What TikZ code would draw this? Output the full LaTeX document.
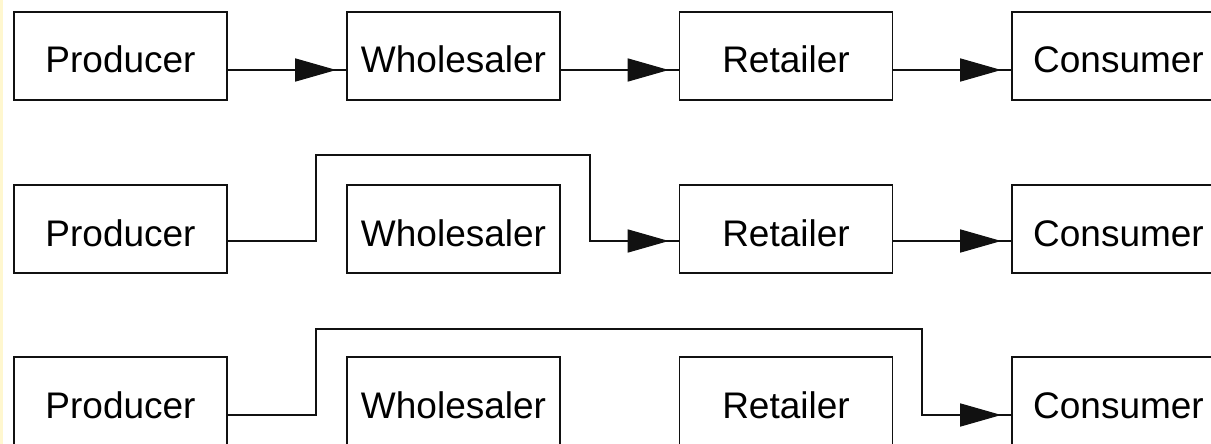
\documentclass[tikz,border=0pt]{standalone}
\usepackage{fontspec}
\setmainfont{Liberation Sans}
\usepackage{tikz}
\usetikzlibrary{arrows.meta,calc}
\definecolor{chanInk}{HTML}{111111}
\definecolor{chanStrip}{HTML}{FFF7CF}
\tikzset{
  stage/.style={draw=chanInk,line width=1.6pt,minimum width=213pt,
    minimum height=88pt,inner sep=0pt,text height=34pt,text depth=0pt,
    font=\fontsize{37}{42}\selectfont},
  flow/.style={line width=1.6pt,draw=chanInk,
    postaction={draw,-{Triangle[length=41pt,width=23pt]},shorten >=10pt}}
}

\begin{document}
\begin{tikzpicture}[x=1pt,y=-1pt]
  \useasboundingbox[fill=white] (0,0) rectangle (1211,444);
  \fill[chanStrip] (0,0) rectangle (3,444);

  % three rows of the same four stages
  \foreach \r/\y in {1/56,2/229,3/401} {
    \foreach \n/\x/\t in {p/120.5/Producer,w/453.5/Wholesaler,r/786/Retailer,c/1118.5/Consumer} {
      \node[stage] (\n\r) at (\x,\y) {\t};
    }
  }

  % full chain
  \draw[flow] ([yshift=-14pt]p1.east) -- ([yshift=-14pt]w1.west);
  \draw[flow] ([yshift=-14pt]w1.east) -- ([yshift=-14pt]r1.west);
  \draw[flow] ([yshift=-14pt]r1.east) -- ([yshift=-14pt]c1.west);

  % skipping the wholesaler
  \draw[flow] ([yshift=-12pt]p2.east) -| (316,155) -| (590,241) -- ([yshift=-12pt]r2.west);
  \draw[flow] ([yshift=-12pt]r2.east) -- ([yshift=-12pt]c2.west);

  % direct to the consumer
  \draw[flow] ([yshift=-14pt]p3.east) -| (316,329) -| (922,415) -- ([yshift=-14pt]c3.west);
\end{tikzpicture}
\end{document}
